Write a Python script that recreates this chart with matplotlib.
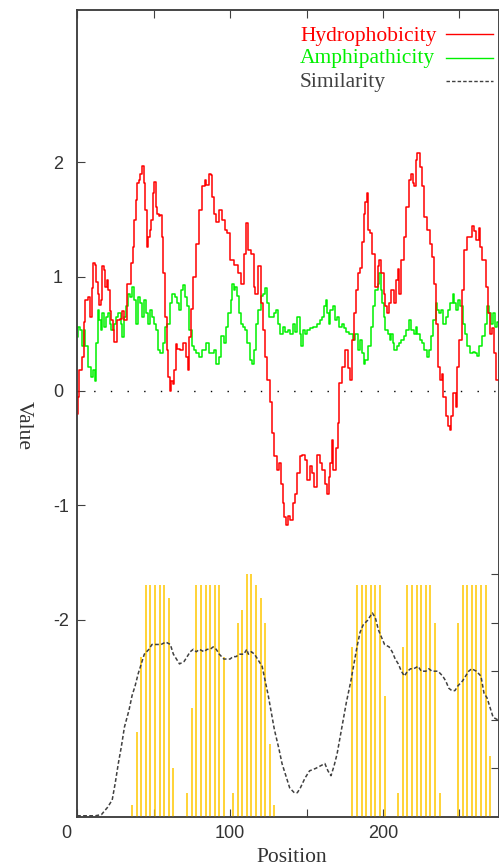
import matplotlib
matplotlib.use('Agg')
import matplotlib.pyplot as plt
import matplotlib.transforms as mtransforms
from matplotlib.lines import Line2D
import numpy as np

plt.rcParams['axes.unicode_minus'] = False
plt.rcParams['font.family'] = ['Liberation Sans', 'DejaVu Sans']

# ---------------- data ----------------
hyd_pos = [0, 1, 2, 4, 5, 6, 8, 9, 10, 11, 12, 13, 14, 15, 16, 17, 18, 19, 20, 21, 22, 23, 24, 25,
           27, 29, 30, 32, 34, 36, 37, 38, 39, 40, 41, 42, 43, 44, 45, 46, 47, 48, 49, 50, 51, 52,
           53, 54, 55, 56, 57, 58, 59, 60, 61, 62, 63, 64, 65, 66, 68, 70, 72, 73, 74, 75, 77, 79,
           81, 83, 84, 85, 87, 88, 89, 90, 92, 94, 96, 97, 99, 101, 104, 106, 108, 110, 111, 113,
           115, 116, 117, 119, 121, 122, 124, 125, 127, 128, 130, 131, 133, 134, 135, 136, 137,
           139, 140, 142, 143, 145, 146, 148, 150, 151, 153, 154, 156, 158, 159, 161, 163, 164,
           165, 166, 167, 168, 170, 171, 172, 174, 176, 178, 179, 180, 182, 183, 184, 186, 187,
           188, 189, 190, 191, 192, 194, 196, 197, 198, 200, 201, 202, 203, 205, 206, 208, 209,
           210, 211, 213, 214, 216, 218, 219, 220, 221, 222, 223, 225, 226, 228, 230, 231, 233,
           234, 235, 237, 238, 239, 240, 242, 243, 244, 245, 247, 248, 249, 251, 252, 254, 256,
           257, 259, 260, 262, 263, 264, 266, 268, 269, 271, 272, 273, 275]
hyd_val = [-0.2, -0.05, 0.18, 0.3, 0.6, 0.8, 0.82, 0.65, 0.9, 1.12, 1.1, 0.95, 0.85, 0.75, 0.8,
           1.09, 1.06, 0.91, 0.97, 0.88, 0.7, 0.62, 0.53, 0.43, 0.62, 0.63, 0.7, 0.62, 0.94, 1.12,
           1.26, 1.5, 1.67, 1.82, 1.85, 1.9, 1.97, 1.82, 1.58, 1.26, 1.35, 1.41, 1.5, 1.73, 1.83,
           1.61, 1.55, 1.53, 1.54, 1.35, 1.03, 0.65, 0.36, 0.12, 0.0, 0.09, 0.06, 0.18, 0.41, 0.37,
           0.36, 0.42, 0.3, 0.18, 0.47, 0.72, 1.0, 1.29, 1.58, 1.79, 1.85, 1.8, 1.9, 1.89, 1.7,
           1.55, 1.48, 1.58, 1.5, 1.41, 1.38, 1.15, 1.1, 1.03, 0.94, 1.2, 1.47, 1.23, 1.2, 0.91,
           0.85, 1.09, 0.77, 0.53, 0.3, 0.1, -0.1, -0.37, -0.57, -0.69, -0.63, -0.81, -0.98, -1.1,
           -1.17, -1.09, -1.13, -0.98, -0.9, -0.72, -0.57, -0.56, -0.6, -0.78, -0.66, -0.72, -0.84,
           -0.56, -0.63, -0.69, -0.81, -0.9, -0.75, -0.63, -0.43, -0.69, -0.5, -0.28, 0.07, 0.21,
           0.36, 0.2, 0.1, 0.45, 0.68, 0.88, 1.03, 1.08, 1.3, 1.55, 1.65, 1.73, 1.41, 1.38, 1.2,
           0.91, 1.09, 1.15, 1.03, 0.85, 0.74, 0.68, 0.77, 0.88, 0.77, 0.97, 1.07, 0.85, 1.15,
           1.35, 1.61, 1.85, 1.9, 1.82, 1.79, 2.02, 2.08, 1.96, 1.79, 1.52, 1.41, 1.29, 1.17, 0.94,
           0.59, 0.21, 0.1, 0.15, -0.05, -0.22, -0.31, -0.34, -0.22, -0.02, -0.14, 0.21, 0.45,
           0.88, 1.23, 1.35, 1.35, 1.44, 1.4, 1.32, 1.43, 1.26, 1.15, 0.91, 0.68, 0.5, 0.55, 0.33,
           0.1]

amp_pos = [0, 1, 3, 4, 5, 6, 8, 10, 11, 12, 13, 14, 15, 16, 17, 18, 20, 21, 22, 23, 25, 26, 28,
           29, 30, 31, 33, 34, 35, 37, 38, 39, 41, 42, 43, 44, 46, 47, 48, 50, 51, 52, 54, 55, 57,
           58, 60, 61, 63, 65, 66, 67, 69, 70, 71, 73, 74, 76, 77, 79, 81, 82, 84, 85, 87, 89, 90,
           92, 93, 95, 97, 98, 100, 101, 102, 103, 104, 105, 107, 108, 109, 110, 112, 114, 115,
           116, 118, 119, 121, 122, 124, 125, 126, 128, 129, 131, 132, 134, 135, 137, 139, 140,
           142, 143, 145, 146, 147, 148, 150, 151, 153, 156, 158, 159, 161, 162, 163, 164, 165,
           166, 168, 169, 171, 172, 174, 175, 177, 178, 180, 181, 183, 184, 186, 187, 188, 189,
           191, 193, 194, 196, 197, 198, 199, 200, 201, 202, 204, 205, 206, 207, 208, 210, 211,
           213, 214, 216, 218, 219, 221, 222, 223, 225, 226, 228, 229, 231, 232, 234, 235, 236,
           237, 239, 240, 242, 243, 245, 246, 247, 248, 250, 251, 253, 254, 256, 258, 259, 261,
           262, 264, 266, 267, 269, 270, 271, 273, 274, 275]
amp_val = [0.47, 0.56, 0.53, 0.39, 0.53, 0.39, 0.21, 0.12, 0.18, 0.09, 0.42, 0.71, 0.62, 0.53,
           0.68, 0.56, 0.65, 0.68, 0.59, 0.53, 0.59, 0.65, 0.68, 0.59, 0.47, 0.65, 0.74, 0.85,
           0.82, 0.91, 0.8, 0.59, 0.82, 0.77, 0.65, 0.8, 0.68, 0.59, 0.71, 0.65, 0.59, 0.53, 0.36,
           0.33, 0.42, 0.56, 0.59, 0.77, 0.85, 0.82, 0.77, 0.71, 0.88, 0.93, 0.82, 0.74, 0.53,
           0.39, 0.36, 0.33, 0.3, 0.36, 0.36, 0.42, 0.33, 0.33, 0.36, 0.24, 0.3, 0.48, 0.42, 0.56,
           0.68, 0.8, 0.94, 0.88, 0.91, 0.83, 0.68, 0.59, 0.56, 0.53, 0.42, 0.27, 0.24, 0.36,
           0.59, 0.71, 0.83, 0.85, 0.9, 0.77, 0.65, 0.65, 0.68, 0.71, 0.59, 0.5, 0.56, 0.52, 0.53,
           0.5, 0.59, 0.52, 0.65, 0.5, 0.39, 0.53, 0.5, 0.53, 0.55, 0.56, 0.59, 0.62, 0.65, 0.74,
           0.8, 0.68, 0.59, 0.71, 0.74, 0.62, 0.65, 0.56, 0.59, 0.55, 0.52, 0.5, 0.5, 0.45, 0.5,
           0.36, 0.45, 0.33, 0.24, 0.27, 0.39, 0.56, 0.74, 0.88, 0.94, 1.03, 0.88, 0.77, 0.65,
           0.53, 0.5, 0.45, 0.5, 0.42, 0.36, 0.39, 0.42, 0.45, 0.48, 0.53, 0.62, 0.53, 0.5, 0.56,
           0.5, 0.45, 0.42, 0.36, 0.3, 0.36, 0.48, 0.62, 0.77, 0.71, 0.68, 0.71, 0.59, 0.65, 0.71,
           0.77, 0.85, 0.77, 0.71, 0.8, 0.74, 0.59, 0.5, 0.39, 0.33, 0.34, 0.33, 0.31, 0.39, 0.48,
           0.59, 0.74, 0.68, 0.59, 0.68, 0.56, 0.6]

sim_pos = [0, 12, 16, 20, 23, 25, 27, 29, 31, 34, 36, 38, 40, 42, 44, 47, 49, 52, 55, 58, 61,
           63, 65, 67, 70, 72, 74, 76, 78, 80, 83, 85, 87, 89, 91, 93, 96, 98, 100, 102, 104, 106,
           109, 111, 112, 114, 116, 118, 121, 123, 125, 127, 129, 132, 134, 137, 139, 142, 144,
           146, 149, 152, 156, 159, 162, 164, 166, 168, 170, 172, 174, 176, 179, 181, 183, 185,
           187, 190, 192, 193, 195, 197, 199, 201, 204, 206, 208, 210, 212, 214, 216, 218, 220,
           223, 225, 228, 230, 232, 234, 236, 239, 241, 243, 245, 247, 249, 252, 254, 256, 258,
           261, 264, 266, 268, 270, 272, 275]
sim_val = [0.005, 0.005, 0.01, 0.04, 0.07, 0.14, 0.22, 0.29, 0.37, 0.44, 0.5, 0.54, 0.59, 0.63,
           0.67, 0.69, 0.71, 0.71, 0.71, 0.72, 0.71, 0.67, 0.65, 0.63, 0.64, 0.66, 0.68, 0.69,
           0.68, 0.69, 0.68, 0.69, 0.69, 0.7, 0.69, 0.67, 0.65, 0.65, 0.65, 0.66, 0.66, 0.67, 0.67,
           0.69, 0.67, 0.68, 0.67, 0.65, 0.62, 0.56, 0.5, 0.43, 0.36, 0.28, 0.22, 0.16, 0.12, 0.1,
           0.1, 0.12, 0.16, 0.19, 0.2, 0.21, 0.22, 0.19, 0.17, 0.21, 0.26, 0.33, 0.4, 0.47, 0.56,
           0.63, 0.7, 0.76, 0.79, 0.81, 0.83, 0.84, 0.82, 0.77, 0.74, 0.71, 0.7, 0.68, 0.65, 0.63,
           0.6, 0.58, 0.6, 0.61, 0.61, 0.62, 0.6, 0.6, 0.61, 0.6, 0.6, 0.6, 0.58, 0.56, 0.53, 0.52,
           0.52, 0.54, 0.56, 0.58, 0.6, 0.61, 0.6, 0.58, 0.51, 0.49, 0.45, 0.41, 0.4]

bar_pos = [36, 39, 42, 45, 48, 51, 54, 57, 60, 63,
           72, 75, 78, 81, 84, 87, 90, 93, 96,
           102, 105, 108, 111, 114, 117, 120, 123, 126, 129,
           180, 183, 186, 189, 192, 195, 198, 201,
           210, 213, 216, 219, 222, 225, 228, 231, 234, 237,
           249, 252, 255, 258, 261, 264, 267, 270]
bar_val = [0.05, 0.35, 0.66, 0.955, 0.955, 0.955, 0.955, 0.955, 0.9, 0.2,
           0.1, 0.45, 0.955, 0.955, 0.955, 0.955, 0.955, 0.955, 0.66,
           0.1, 0.8, 0.85, 1.0, 1.0, 0.955, 0.9, 0.8, 0.3, 0.05,
           0.7, 0.955, 0.955, 0.955, 0.955, 0.955, 0.955, 0.5,
           0.1, 0.7, 0.955, 0.955, 0.955, 0.955, 0.955, 0.955, 0.8, 0.1,
           0.8, 0.955, 0.955, 0.955, 0.955, 0.955, 0.955, 0.25]

x_ticks = [0, 50, 100, 150, 200, 250]
x_labels = ['0', '', '100', '', '200', '']
y_ticks = [-2, -1, 0, 1, 2]
y_labels = ['-2', '-1', '0', '1', '2']
sim_ticks = [0.2, 0.4, 0.6, 0.8, 1.0]
legend_names = ['Hydrophobicity', 'Amphipathicity', 'Similarity']

# ---------------- layout ----------------
W, H = 499, 868
L, R, B, T = 77, 498.5, 817, 10
fig = plt.figure(figsize=(W / 100, H / 100), dpi=100)
ax = fig.add_axes([L / W, 1 - B / H, (R - L) / W, (B - T) / H])
ax2 = ax.twinx()

RED = '#FF0000'
GREEN = '#00F000'
GRAY = '#404040'
GOLD = '#FFC800'
SERIF = ['Liberation Serif', 'DejaVu Serif']

ax.plot(hyd_pos, hyd_val, color=RED, lw=1.1, drawstyle='steps-mid', zorder=3)
ax.plot(amp_pos, amp_val, color=GREEN, lw=1.1, drawstyle='steps-mid', zorder=2)
ax.axhline(0, color='black', lw=1.0, ls=(0, (1, 11)), zorder=1)

ax2.vlines(bar_pos, 0, bar_val, color=GOLD, lw=1.1, zorder=1)
ax2.plot(sim_pos, sim_val, color=GRAY, lw=1.1, ls=(0, (2.5, 1.5)), zorder=2)

ax.set_xlim(0, (R - L) / 1.53)
ax.set_ylim(-3.727, 3.333)
ax2.set_ylim(0, (B - T) / 243.0)

ax.set_xticks(x_ticks)
ax.set_xticklabels(x_labels)
ax.set_yticks(y_ticks)
ax.set_yticklabels(y_labels)
ax.tick_params(axis='both', direction='in', length=5.8, width=0.8, color=GRAY,
               labelsize=13, labelcolor='#333333', top=True, right=False)
ax.tick_params(axis='x', pad=6)
ax.tick_params(axis='y', pad=17.3)
for lbl in ax.get_yticklabels():
    lbl.set_horizontalalignment('left')

ax2.set_yticks(sim_ticks)
ax2.set_yticklabels([])
ax2.tick_params(axis='y', direction='in', length=5.8, width=0.8, color=GRAY)

for a in (ax, ax2):
    for sp in a.spines.values():
        sp.set_color(GRAY)
        sp.set_linewidth(1.1)

# shift the "0" x label to the left like the original
lbl0 = ax.xaxis.get_major_ticks()[0].label1
lbl0.set_transform(lbl0.get_transform() +
                   mtransforms.ScaledTranslation(-8 / 72, 0, fig.dpi_scale_trans))

# legend (text + sample line)
text_y = [(B - 41) / (B - T), (B - 63.3) / (B - T), (B - 86.7) / (B - T)]
line_y = [(B - 34.3) / (B - T), (B - 57.7) / (B - T), (B - 80.7) / (B - T)]
colors = [RED, GREEN, GRAY]
styles = ['-', '-', (0, (2.5, 1.5))]
tx = (300 - L) / (R - L)
lx0, lx1 = (446 - L) / (R - L), (493 - L) / (R - L)
for name, c, ty, ly, st in zip(legend_names, colors, text_y, line_y, styles):
    ax.text(tx, ty, name, transform=ax.transAxes, color=c, family=SERIF,
            fontsize=15.5, ha='left', va='baseline')
    ax.add_line(Line2D([lx0, lx1], [ly, ly], transform=ax.transAxes, color=c,
                       lw=1.0, ls=st, clip_on=False))

fig.text(23 / W, 1 - 425 / H, 'Value', rotation=270, family=SERIF, fontsize=15.5,
         color='#333333', ha='center', va='center')
fig.text(291.7 / W, 1 - 862 / H, 'Position', family=SERIF, fontsize=15.5,
         color='#333333', ha='center', va='baseline')

fig.savefig('out.png', dpi=100)
